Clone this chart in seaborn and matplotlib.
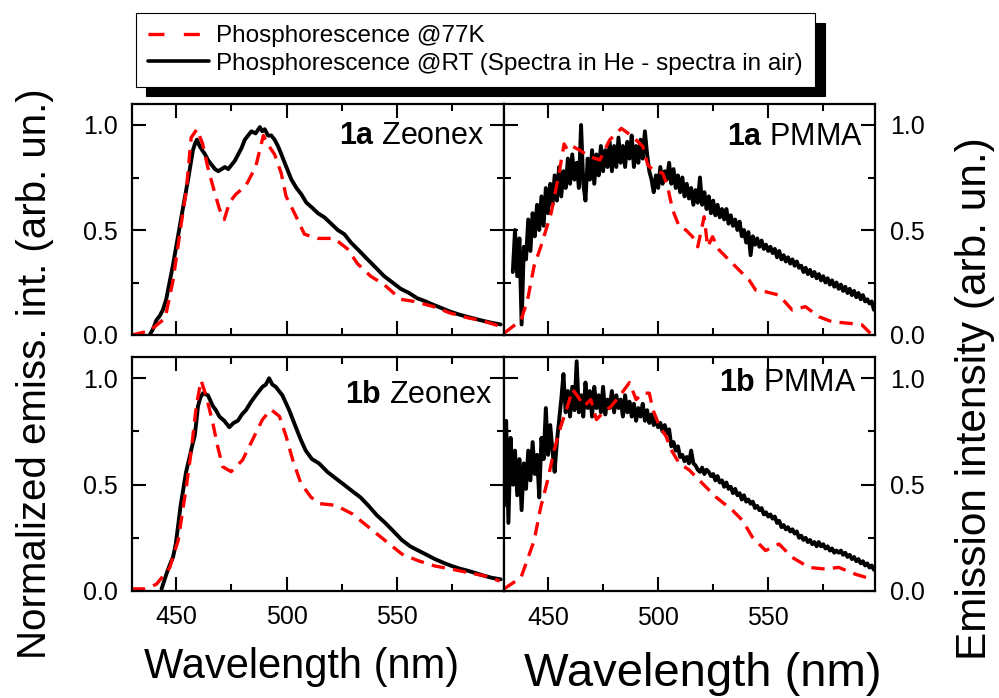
import numpy as np
import pandas as pd
import seaborn as sns
import matplotlib.pyplot as plt
from matplotlib.lines import Line2D
from matplotlib.ticker import FormatStrFormatter

sns.set_style('ticks')
plt.rcParams['font.family'] = ['Liberation Sans', 'DejaVu Sans']
plt.rcParams['mathtext.fontset'] = 'custom'
plt.rcParams['mathtext.rm'] = 'Liberation Sans'
plt.rcParams['mathtext.bf'] = 'Liberation Sans:bold'
plt.rcParams['text.color'] = 'black'
plt.rcParams['axes.labelcolor'] = 'black'
plt.rcParams['xtick.color'] = 'black'
plt.rcParams['ytick.color'] = 'black'

# ---- data ----
# 1a Zeonex
za_rt_x = [438, 439.6, 441, 442.5, 444, 445.5, 447, 448.5, 450, 451.5,
           453, 454.2, 455.4, 456.5, 457.6, 458.5, 459.4, 460.6, 461.8, 463.1,
           464.6, 466.1, 467.6, 469.1, 470.6, 472.1, 473.6, 475.1, 476.6, 478.1,
           479.6, 481.1, 482.6, 484.1, 486, 487.9, 489, 490.1, 491.6, 493.1,
           494.6, 496.1, 497.3, 498.4, 500.3, 502.2, 504.5, 506.7, 509, 511.2,
           514.2, 517.2, 520.2, 523.2, 526.2, 529.2, 533, 536.7, 540.5, 544.2,
           548, 551.7, 555.5, 559.2, 563, 566.7, 570.5, 574.2, 578, 581.7,
           585.5, 589.2, 593, 597]
za_rt_y = [0.0, 0.03, 0.07, 0.09, 0.12, 0.17, 0.25, 0.33, 0.42, 0.51,
           0.60, 0.67, 0.74, 0.81, 0.88, 0.91, 0.93, 0.90, 0.88, 0.86,
           0.83, 0.81, 0.79, 0.78, 0.79, 0.80, 0.79, 0.81, 0.83, 0.86,
           0.89, 0.93, 0.95, 0.97, 0.96, 0.99, 0.97, 0.98, 0.95, 0.95,
           0.93, 0.90, 0.87, 0.84, 0.79, 0.74, 0.70, 0.67, 0.63, 0.61,
           0.58, 0.56, 0.53, 0.50, 0.48, 0.44, 0.40, 0.36, 0.32, 0.28,
           0.25, 0.22, 0.20, 0.175, 0.16, 0.143, 0.127, 0.111, 0.098, 0.087,
           0.077, 0.067, 0.058, 0.05]
za_77_x = [430, 438, 445, 448.6, 451.6, 454.6, 456.8, 459.4, 462, 464.3,
           466.6, 469.6, 471.8, 474.1, 477, 481.5, 486, 489.5, 492, 494.6,
           497.6, 499.8, 503.6, 508.1, 514.1, 521.6, 527.6, 532.1, 538.1, 544.2,
           551.7, 557.7, 566.7, 574, 581.7, 589, 596]
za_77_y = [0.0, 0.02, 0.08, 0.26, 0.48, 0.69, 0.94, 0.98, 0.91, 0.80,
           0.71, 0.60, 0.55, 0.63, 0.67, 0.71, 0.80, 0.95, 0.90, 0.86,
           0.77, 0.66, 0.58, 0.48, 0.46, 0.46, 0.41, 0.34, 0.28, 0.24,
           0.17, 0.16, 0.135, 0.105, 0.083, 0.067, 0.044]

# 1b Zeonex
zb_rt_x = [443.4, 445.6, 447, 448.6, 449.8, 450.8, 452, 453.1, 454.5, 456.1,
           457.2, 458.4, 459.2, 459.9, 461, 462.2, 464.4, 466.6, 468, 469.6,
           471.8, 474.1, 476, 477.9, 479.8, 481.6, 484, 486.1, 489.1, 490.6,
           492.1, 493.6, 495.1, 498.1, 501.2, 504.2, 506.5, 508.7, 511.5, 514.7,
           518.5, 522.2, 526, 529.7, 533.5, 537.2, 541, 544.7, 548.5, 552.2,
           556, 559.7, 563.5, 567.2, 571, 574.7, 578.5, 582.2, 586, 589.7,
           593, 597]
zb_rt_y = [0.01, 0.08, 0.12, 0.16, 0.22, 0.30, 0.40, 0.47, 0.56, 0.63,
           0.68, 0.73, 0.80, 0.87, 0.91, 0.93, 0.92, 0.87, 0.85, 0.82,
           0.80, 0.77, 0.79, 0.80, 0.83, 0.85, 0.89, 0.92, 0.96, 0.97,
           1.00, 0.97, 0.96, 0.92, 0.85, 0.77, 0.71, 0.66, 0.62, 0.60,
           0.56, 0.53, 0.50, 0.47, 0.44, 0.40, 0.355, 0.32, 0.28, 0.24,
           0.21, 0.19, 0.17, 0.15, 0.133, 0.118, 0.105, 0.095, 0.083, 0.071,
           0.062, 0.055]
zb_77_x = [430, 436, 441.1, 447.1, 450.9, 454.6, 456.9, 459.1, 461.3, 463.6,
           466.6, 468.8, 471.1, 474.9, 480.1, 484.6, 489.1, 492.9, 496.8, 499.8,
           502.8, 506.5, 511, 514.7, 522.2, 529.7, 537.2, 544.7, 552.2, 559.7,
           567, 574.7, 582, 589.7, 596.5]
zb_77_y = [0.01, 0.01, 0.032, 0.11, 0.237, 0.49, 0.664, 0.869, 0.99, 0.916,
           0.79, 0.679, 0.584, 0.561, 0.616, 0.711, 0.806, 0.853, 0.821, 0.727,
           0.616, 0.506, 0.442, 0.411, 0.403, 0.363, 0.30, 0.237, 0.174, 0.142,
           0.118, 0.103, 0.087, 0.071, 0.047]

# 1a PMMA (RT spectrum sampled every nm from 434 nm)
pa_rt_x = np.arange(434, 599)
pa_rt_y = [0.30, 0.50, 0.28, 0.46, 0.05, 0.42, 0.36, 0.55, 0.40, 0.58,
           0.47, 0.62, 0.50, 0.66, 0.52, 0.70, 0.58, 0.72, 0.62, 0.76,
           0.64, 0.80, 0.66, 0.78, 0.70, 0.84, 0.72, 0.86, 0.74, 0.82,
           0.70, 1.00, 0.72, 0.64, 0.84, 0.74, 0.88, 0.72, 0.86, 0.76,
           0.90, 0.78, 0.88, 0.80, 0.92, 0.78, 0.90, 0.80, 0.94, 0.82,
           0.90, 0.80, 0.92, 0.84, 0.95, 0.80, 0.90, 0.82, 0.93, 0.84,
           0.97, 0.86, 0.78, 0.74, 0.68, 0.76, 0.70, 0.80, 0.72, 0.78,
           0.74, 0.82, 0.72, 0.79, 0.70, 0.76, 0.68, 0.75, 0.66, 0.72,
           0.65, 0.70, 0.62, 0.69, 0.63, 0.75, 0.62, 0.68, 0.60, 0.66,
           0.58, 0.64, 0.57, 0.62, 0.56, 0.60, 0.55, 0.60, 0.53, 0.57,
           0.52, 0.55, 0.50, 0.54, 0.47, 0.50, 0.44, 0.49, 0.38, 0.47,
           0.43, 0.46, 0.42, 0.45, 0.41, 0.43, 0.40, 0.42, 0.39, 0.41,
           0.37, 0.40, 0.36, 0.38, 0.35, 0.37, 0.34, 0.36, 0.33, 0.35,
           0.32, 0.33, 0.30, 0.32, 0.29, 0.31, 0.28, 0.30, 0.27, 0.29,
           0.26, 0.28, 0.25, 0.27, 0.24, 0.26, 0.23, 0.25, 0.22, 0.24,
           0.21, 0.23, 0.20, 0.22, 0.19, 0.21, 0.18, 0.20, 0.17, 0.19,
           0.16, 0.17, 0.15, 0.16, 0.12]
pa_77_x = [430.2, 437.7, 440.7, 443.7, 446.7, 451.4, 455, 457.3, 458.9, 461.4,
           464.4, 468.9, 473.5, 478, 483.3, 488.5, 493.1, 495.3, 497.6, 502.1,
           504.3, 506.6, 509.6, 512.6, 515.6, 518, 520.9, 522.5, 524.7, 527.7,
           530.7, 536.7, 541.3, 544.3, 548.8, 554.9, 560.9, 566.9, 573, 579,
           586.6, 592.6, 596.4]
pa_77_y = [0.01, 0.07, 0.167, 0.33, 0.42, 0.58, 0.77, 0.91, 0.88, 0.897,
           0.88, 0.85, 0.833, 0.929, 0.984, 0.944, 0.897, 0.81, 0.786, 0.77,
           0.706, 0.595, 0.516, 0.50, 0.468, 0.42, 0.563, 0.42, 0.468, 0.405,
           0.373, 0.31, 0.262, 0.214, 0.206, 0.19, 0.119, 0.135, 0.087, 0.063,
           0.056, 0.048, 0.008]

# 1b PMMA (RT spectrum sampled every nm from 430 nm)
pb_rt_x = np.arange(430, 599)
pb_rt_y = [0.40, 0.80, 0.32, 0.72, 0.50, 0.66, 0.45, 0.62, 0.38, 0.60,
           0.48, 0.66, 0.52, 0.70, 0.55, 0.64, 0.44, 0.72, 0.62, 0.86,
           0.64, 0.78, 0.66, 0.56, 0.70, 0.80, 0.90, 1.02, 0.84, 0.94,
           0.82, 0.96, 0.85, 1.08, 0.84, 0.92, 0.82, 0.98, 0.86, 0.94,
           0.82, 0.96, 0.86, 0.92, 0.84, 0.96, 0.83, 0.90, 0.86, 0.94,
           0.84, 0.92, 0.86, 0.90, 0.82, 0.92, 0.84, 0.89, 0.82, 0.88,
           0.80, 0.86, 0.82, 0.88, 0.80, 0.85, 0.79, 0.83, 0.78, 0.81,
           0.77, 0.79, 0.75, 0.78, 0.74, 0.76, 0.68, 0.70, 0.66, 0.68,
           0.63, 0.64, 0.61, 0.63, 0.60, 0.66, 0.60, 0.59, 0.57, 0.56,
           0.58, 0.55, 0.57, 0.56, 0.54, 0.55, 0.52, 0.54, 0.51, 0.52,
           0.49, 0.51, 0.48, 0.49, 0.46, 0.48, 0.45, 0.46, 0.43, 0.45,
           0.42, 0.43, 0.41, 0.42, 0.39, 0.40, 0.38, 0.39, 0.36, 0.37,
           0.35, 0.36, 0.34, 0.35, 0.32, 0.33, 0.30, 0.31, 0.29, 0.30,
           0.28, 0.29, 0.27, 0.28, 0.25, 0.26, 0.24, 0.25, 0.23, 0.24,
           0.22, 0.23, 0.21, 0.23, 0.21, 0.22, 0.20, 0.21, 0.19, 0.20,
           0.18, 0.19, 0.18, 0.19, 0.17, 0.18, 0.16, 0.17, 0.15, 0.16,
           0.14, 0.15, 0.13, 0.14, 0.12, 0.13, 0.11, 0.12, 0.10]
pb_77_x = [430, 437.7, 443.7, 446.7, 449.8, 452.8, 455.8, 458.9, 461.1, 463.4,
           466.4, 469.4, 472, 475, 478.7, 482.5, 487, 490, 493, 496,
           497.6, 500.6, 503.6, 505.9, 509.6, 514.1, 520.1, 526.2, 533.8, 538.3,
           542.8, 548.8, 554.9, 560.9, 568.5, 576, 582, 589.6, 597.2]
pb_77_y = [0.01, 0.063, 0.237, 0.395, 0.52, 0.663, 0.774, 0.869, 0.948, 0.916,
           0.869, 0.90, 0.806, 0.838, 0.869, 0.916, 0.98, 0.90, 0.93, 0.93,
           0.853, 0.774, 0.727, 0.664, 0.60, 0.569, 0.506, 0.442, 0.379, 0.332,
           0.253, 0.19, 0.221, 0.158, 0.111, 0.103, 0.111, 0.079, 0.055]

labels = ['Phosphorescence @77K',
          'Phosphorescence @RT (Spectra in He - spectra in air)']

W, H = 999, 698
fig = plt.figure(figsize=(W / 100, H / 100), dpi=100)


def box(x0, y0, x1, y1):
    return [x0 / W, 1 - y1 / H, (x1 - x0) / W, (y1 - y0) / H]


ax_tl = fig.add_axes(box(132, 104, 504, 335))
ax_tr = fig.add_axes(box(504, 104, 875, 335))
ax_bl = fig.add_axes(box(132, 357, 504, 591))
ax_br = fig.add_axes(box(504, 357, 875, 591))

panels = [
    (ax_tl, za_rt_x, za_rt_y, za_77_x, za_77_y, 'Zeonex', '1a', 0.949, 0.861),
    (ax_tr, pa_rt_x, pa_rt_y, pa_77_x, pa_77_y, 'PMMA', '1a', 0.968, 0.857),
    (ax_bl, zb_rt_x, zb_rt_y, zb_77_x, zb_77_y, 'Zeonex', '1b', 0.970, 0.838),
    (ax_br, pb_rt_x, pb_rt_y, pb_77_x, pb_77_y, 'PMMA', '1b', 0.951, 0.889),
]

red_ls = (0, (4, 2.5))
for ax, rx, ry, kx, ky, host, tag, tx, ty in panels:
    sns.lineplot(x=rx, y=ry, ax=ax, color='black', lw=2.8,
                 estimator=None, errorbar=None, sort=False)
    sns.lineplot(x=kx, y=ky, ax=ax, color='red', lw=2.4, linestyle=red_ls,
                 estimator=None, errorbar=None, sort=False)
    ax.set_xlim(430, 598.5)
    ax.set_ylim(0, 1.1)
    ax.set_xticks([450, 500, 550])
    ax.set_xticks([475, 525, 575], minor=True)
    ax.set_yticks([0, 0.5, 1.0])
    ax.set_yticks([0.25, 0.75], minor=True)
    ax.yaxis.set_major_formatter(FormatStrFormatter('%.1f'))
    ax.tick_params(which='both', direction='in', top=True, bottom=True,
                   left=True, right=True, width=1.5, color='black',
                   labelcolor='black', labelsize=18, pad=10)
    ax.tick_params(which='major', length=10)
    ax.tick_params(which='minor', length=5)
    for s in ax.spines.values():
        s.set_linewidth(1.6)
        s.set_color('black')
    ax.set_xlabel('')
    ax.set_ylabel('')
    ax.text(tx, ty, r'$\mathbf{%s}$ %s' % (tag, host), transform=ax.transAxes,
            ha='right', va='center', fontsize=22, color='black')

for ax in (ax_tl, ax_tr):
    ax.tick_params(labelbottom=False)
for ax in (ax_tr, ax_br):
    ax.tick_params(labelleft=False, labelright=True, pad=11)

fig.text(35 / W, 1 - 374 / H, 'Normalized emiss. int. (arb. un.)',
         rotation=90, ha='center', va='center', fontsize=29, color='black')
fig.text(975 / W, 1 - 399 / H, 'Emission intensity (arb. un.)',
         rotation=90, ha='center', va='center', fontsize=30.5, color='black')
fig.text(302 / W, 1 - 667 / H, 'Wavelength (nm)', ha='center', va='center',
         fontsize=30, color='black')
fig.text(703 / W, 1 - 674 / H, 'Wavelength (nm)', ha='center', va='center',
         fontsize=34, color='black')

handles = [Line2D([], [], color='red', lw=2.4, linestyle=(0, (4.8, 5.8))),
           Line2D([], [], color='black', lw=2.6)]
leg = fig.legend(handles, labels, loc='upper left',
                 bbox_to_anchor=(136 / W, 1 - 13 / H), frameon=True,
                 fancybox=False, edgecolor='black', framealpha=1,
                 shadow={'ox': 7, 'oy': -7, 'facecolor': 'black',
                         'edgecolor': 'black', 'alpha': 1},
                 fontsize=17.5, handlelength=2.5, handletextpad=0.3,
                 borderpad=0.5, labelspacing=0.22, borderaxespad=0)
leg.get_frame().set_linewidth(0.8)
for t in leg.get_texts():
    t.set_color('black')

fig.savefig('out.png', dpi=100)
